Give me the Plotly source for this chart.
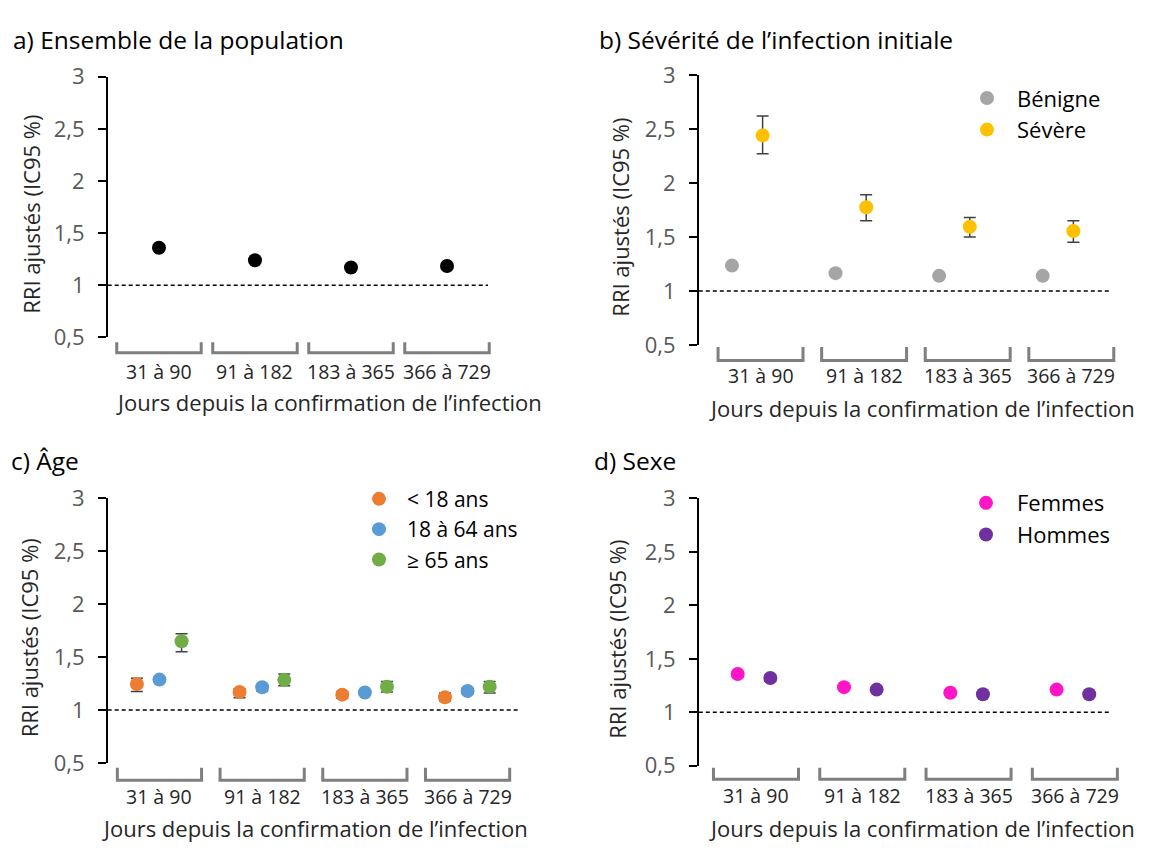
import plotly.graph_objects as go

W, H = 1149, 855
FONT = "Open Sans, Lato, sans-serif"

categories = ["31 à 90", "91 à 182", "183 à 365", "366 à 729"]
y_ticks = [0.5, 1, 1.5, 2, 2.5, 3]
y_ticktext = ["0,5", "1", "1,5", "2", "2,5", "3"]

# a) Ensemble de la population
pop_rri = [1.36, 1.24, 1.17, 1.185]
pop_lo = [1.34, 1.225, 1.155, 1.17]
pop_hi = [1.38, 1.255, 1.185, 1.20]

# b) Sévérité de l'infection initiale
benigne_rri = [1.235, 1.165, 1.14, 1.14]
benigne_lo = [1.22, 1.15, 1.125, 1.125]
benigne_hi = [1.25, 1.18, 1.155, 1.155]
severe_rri = [2.44, 1.775, 1.595, 1.555]
severe_lo = [2.27, 1.65, 1.50, 1.45]
severe_hi = [2.62, 1.89, 1.68, 1.65]

# c) Âge
lt18_rri = [1.245, 1.17, 1.145, 1.12]
lt18_lo = [1.175, 1.115, 1.11, 1.085]
lt18_hi = [1.30, 1.20, 1.175, 1.16]
a1864_rri = [1.287, 1.215, 1.165, 1.18]
a1864_lo = [1.265, 1.18, 1.14, 1.155]
a1864_hi = [1.31, 1.235, 1.185, 1.205]
ge65_rri = [1.65, 1.285, 1.22, 1.22]
ge65_lo = [1.55, 1.23, 1.17, 1.16]
ge65_hi = [1.72, 1.34, 1.27, 1.27]

# d) Sexe
femmes_rri = [1.358, 1.235, 1.183, 1.212]
femmes_lo = [1.33, 1.215, 1.165, 1.195]
femmes_hi = [1.38, 1.255, 1.20, 1.23]
hommes_rri = [1.32, 1.212, 1.168, 1.168]
hommes_lo = [1.29, 1.19, 1.145, 1.145]
hommes_hi = [1.345, 1.235, 1.19, 1.19]


def X(px):
    return px / W


def Y(py):
    return 1 - py / H


panels = [
    dict(key="", title="a) Ensemble de la population", xdom=(107.7, 488), ytop=63, ybot=333,
         xr=(-0.534, 3.427), hw=0.44, br=(338, 349), lab=368, xt=(329, 400), ytx=31, pt=(11, 24)),
    dict(key="2", title="b) Sévérité de l’infection initiale", xdom=(698.8, 1109), ytop=61, ybot=341,
         xr=(-0.596, 3.364), hw=0.41, br=(343, 357), lab=373, xt=(922, 406), ytx=620, pt=(597, 24)),
    dict(key="3", title="c) Âge", xdom=(107.7, 517.6), ytop=500, ybot=774,
         xr=(-0.504, 3.487), hw=0.41, br=(779, 792), lab=809, xt=(315, 842), ytx=29, pt=(9, 461)),
    dict(key="4", title="d) Sexe", xdom=(698.8, 1111), ytop=500, ybot=777,
         xr=(-0.538, 3.34), hw=0.40, br=(779, 791), lab=808, xt=(922, 842), ytx=617, pt=(592, 461)),
]

series = [
    # panel index, name, values, lo, hi, colour, offset, legend
    (0, "Ensemble", pop_rri, pop_lo, pop_hi, "#000000", 0.0, None),
    (1, "Bénigne", benigne_rri, benigne_lo, benigne_hi, "#a5a5a5", -0.276, "legend2"),
    (1, "Sévère", severe_rri, severe_lo, severe_hi, "#ffc000", 0.02, "legend2"),
    (2, "< 18 ans", lt18_rri, lt18_lo, lt18_hi, "#ed7d31", -0.22, "legend3"),
    (2, "18 à 64 ans", a1864_rri, a1864_lo, a1864_hi, "#5b9bd5", 0.0, "legend3"),
    (2, "≥ 65 ans", ge65_rri, ge65_lo, ge65_hi, "#70ad47", 0.215, "legend3"),
    (3, "Femmes", femmes_rri, femmes_lo, femmes_hi, "#ff14c8", -0.172, "legend4"),
    (3, "Hommes", hommes_rri, hommes_lo, hommes_hi, "#7030a0", 0.135, "legend4"),
]

fig = go.Figure()

for p, name, vals, lo, hi, col, off, leg in series:
    k = panels[p]["key"]
    xs = [i + off for i in range(len(categories))]
    tr = go.Scatter(
        x=xs, y=vals, mode="markers", name=name,
        marker=dict(color=col, size=14, line=dict(width=0)),
        error_y=dict(type="data", symmetric=False,
                     array=[h - v for h, v in zip(hi, vals)],
                     arrayminus=[v - l for v, l in zip(vals, lo)],
                     color="#404040", thickness=1.5, width=6),
        xaxis="x" + k, yaxis="y" + k,
        showlegend=leg is not None,
    )
    if leg:
        tr.update(legend=leg)
    fig.add_trace(tr)

layout = dict(
    width=W, height=H, margin=dict(l=0, r=0, t=0, b=0),
    paper_bgcolor="white", plot_bgcolor="white",
    font=dict(family=FONT, color="#000000"),
    showlegend=True,
)
shapes = []
annotations = []

for P in panels:
    k = P["key"]
    d0, d1 = X(P["xdom"][0]), X(P["xdom"][1])
    r0, r1 = P["xr"]
    layout["xaxis" + k] = dict(domain=[d0, d1], range=[r0, r1], visible=False,
                               anchor="y" + k, fixedrange=True)
    layout["yaxis" + k] = dict(
        domain=[Y(P["ybot"]), Y(P["ytop"])], range=[0.5, 3], anchor="x" + k,
        tickvals=y_ticks, ticktext=y_ticktext, showgrid=False, zeroline=False,
        showline=True, linecolor="#000000", linewidth=1.5,
        ticks="outside", ticklen=8, tickwidth=1.5, tickcolor="#000000",
        tickfont=dict(family=FONT, size=22, color="#595959"),
        ticklabelstandoff=9, fixedrange=True,
    )
    # reference line at RRI = 1
    shapes.append(dict(type="line", xref="x" + k + " domain", yref="y" + k,
                       x0=0, x1=1, y0=1, y1=1,
                       line=dict(color="#000000", width=1.5, dash="4px,3px")))

    def xp(xd):
        return d0 + (xd - r0) / (r1 - r0) * (d1 - d0)

    yt, yb = Y(P["br"][0]), Y(P["br"][1])
    for i, cat in enumerate(categories):
        xa, xb = xp(i - P["hw"]), xp(i + P["hw"])
        shapes.append(dict(type="path", xref="paper", yref="paper",
                           path=f"M {xa},{yt} L {xa},{yb} L {xb},{yb} L {xb},{yt}",
                           line=dict(color="#7f7f7f", width=3)))
        annotations.append(dict(text=cat, x=i, xref="x" + k, y=Y(P["lab"]), yref="paper",
                                xanchor="center", yanchor="middle", showarrow=False,
                                font=dict(family=FONT, size=19.5, color="#262626")))
    annotations.append(dict(text="Jours depuis la confirmation de l’infection",
                            x=X(P["xt"][0]), xref="paper", y=Y(P["xt"][1]), yref="paper",
                            xanchor="center", yanchor="middle", showarrow=False,
                            font=dict(family=FONT, size=22, color="#262626")))
    annotations.append(dict(text="RRI ajustés (IC95 %)", textangle=-90,
                            x=X(P["ytx"]), xref="paper",
                            y=(Y(P["ybot"]) + Y(P["ytop"])) / 2 - 8 / H, yref="paper",
                            xanchor="center", yanchor="middle", showarrow=False,
                            font=dict(family=FONT, size=22, color="#262626")))
    annotations.append(dict(text=P["title"], x=X(P["pt"][0]), xref="paper",
                            y=Y(P["pt"][1]), yref="paper",
                            xanchor="left", yanchor="middle", showarrow=False,
                            font=dict(family=FONT, size=24.5, color="#000000")))

leg_common = dict(bgcolor="rgba(0,0,0,0)", borderwidth=0, xanchor="left", yanchor="top",
                  xref="paper", yref="paper")
layout["legend2"] = dict(leg_common, x=X(957), y=Y(63.4), itemwidth=50,
                         font=dict(family=FONT, size=22, color="#000000"))
layout["legend3"] = dict(leg_common, x=X(351), y=Y(479.5), itemwidth=46,
                         font=dict(family=FONT, size=21, color="#000000"))
layout["legend4"] = dict(leg_common, x=X(955), y=Y(483), itemwidth=52,
                         font=dict(family=FONT, size=22, color="#000000"))

layout["shapes"] = shapes
layout["annotations"] = annotations
fig.update_layout(**layout)

fig.write_html("out.html", config={"displayModeBar": False},
               post_script="document.body.style.margin='0';document.body.style.overflow='hidden';")
